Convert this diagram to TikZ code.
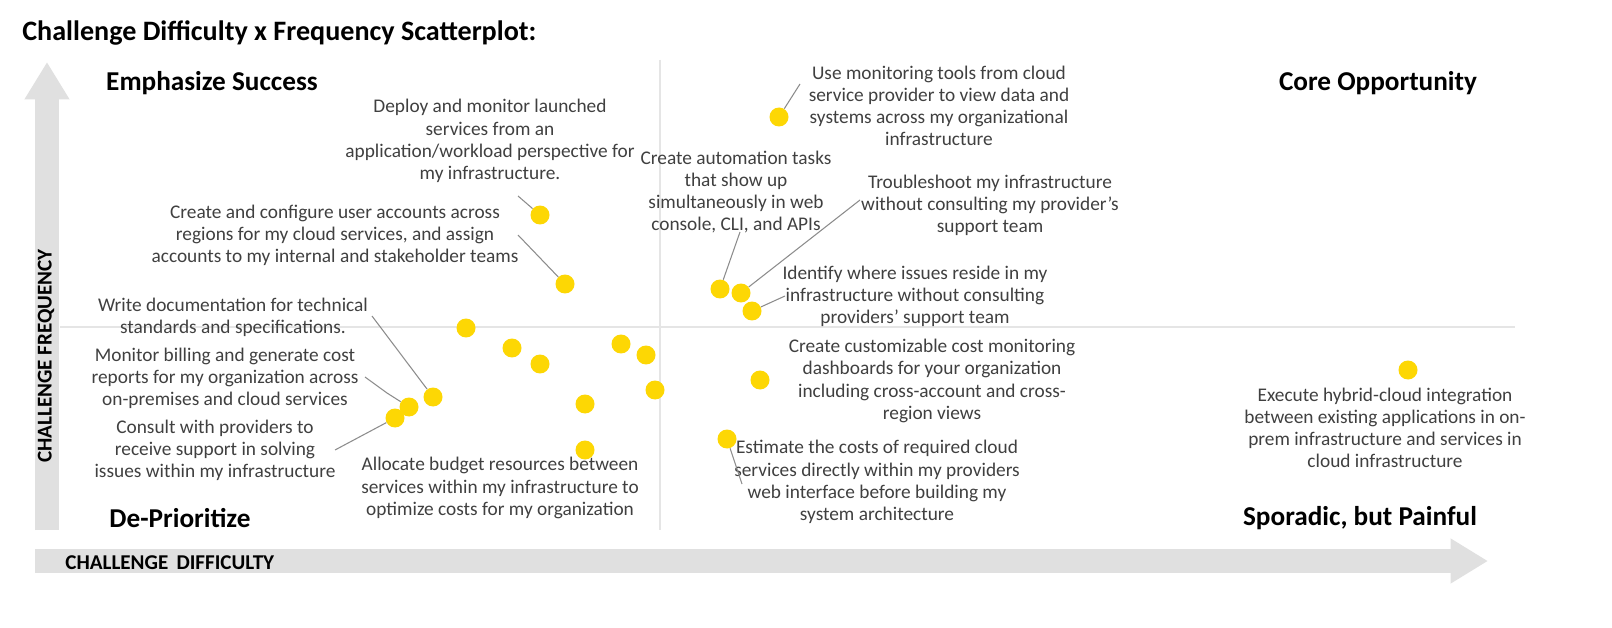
\documentclass[tikz,border=0pt]{standalone}
\usepackage{fontspec}
\setmainfont{Carlito}
\usetikzlibrary{arrows.meta}
\tikzset{
  dot/.style={circle,fill=yellow!75!orange,minimum size=0.38cm,inner sep=0pt},
  txt/.style={align=center,text=black!75,font=\fontsize{11}{12.6}\selectfont,inner sep=0pt},
  quad/.style={font=\bfseries\fontsize{15.5}{18}\selectfont,inner sep=0pt},
  lead/.style={draw=black!45,line width=0.6pt},
  band/.style={draw=black!12,line width=0.48cm,-{Triangle[length=0.75cm,width=0.85cm]}}
}
\begin{document}
\begin{tikzpicture}[x=0.02cm,y=-0.02cm]
\fill[white] (0,0) rectangle (1612,628);
% axes
\draw[band] (47,530) -- (47,62);
\draw[band] (35,561) -- (1488,561);
\draw[black!10,line width=0.6pt] (660,60) -- (660,530);
\draw[black!10,line width=0.6pt] (60,327) -- (1515,327);
% titles
\node[anchor=west,font=\bfseries\fontsize{16}{19}\selectfont,inner sep=0pt] (title) at (22,33) {Challenge Difficulty x Frequency Scatterplot:};
\node[anchor=west,font=\bfseries\fontsize{12}{14}\selectfont,inner sep=0pt] (xlab) at (65,563) {CHALLENGE \,DIFFICULTY};
\node[rotate=90,font=\bfseries\fontsize{12}{14}\selectfont,inner sep=0pt] (ylab) at (46,356) {CHALLENGE FREQUENCY};
\node[quad] (emph) at (212,83) {Emphasize Success};
\node[quad] (core) at (1378,83) {Core Opportunity};
\node[quad] (depr) at (180,518) {De-Prioritize};
\node[quad] (spor) at (1360,518) {Sporadic, but Painful};
% dots
\foreach \n/\p in {d1/{779,117},d2/{540,215},d3/{565,284},d4/{720,289},d5/{741,293},d6/{752,311},
  d7/{466,328},d8/{512,348},d9/{540,364},d10/{621,344},d11/{646,355},d12/{655,390},d13/{760,380},
  d14/{585,404},d15/{433,397},d16/{409,407},d17/{395,418},d18/{585,450},d19/{727,439},d20/{1408,370}}
  \node[dot] (\n) at (\p) {};
% labels
\node[txt] (tmon) at (939,106) {Use monitoring tools from cloud\\service provider to view data and\\systems across my organizational\\infrastructure};
\node[txt] (tdep) at (490,141) {Deploy and monitor launched\\services from an\\application/workload perspective for\\my infrastructure.};
\node[txt] (tauto) at (736,192) {Create automation tasks\\that show up\\simultaneously in web\\console, CLI, and APIs};
\node[txt] (ttrb) at (990,205) {Troubleshoot my infrastructure\\without consulting my provider's\\support team};
\node[txt] (tacc) at (335,235) {Create and configure user accounts across\\regions for my cloud services, and assign\\accounts to my internal and stakeholder teams};
\node[txt] (tidf) at (915,296) {Identify where issues reside in my\\infrastructure without consulting\\providers' support team};
\node[txt] (tdoc) at (233,317) {Write documentation for technical\\standards and specifications.};
\node[txt] (tbil) at (225,378) {Monitor billing and generate cost\\reports for my organization across\\on-premises and cloud services};
\node[txt] (tdash) at (932,381) {Create customizable cost monitoring\\dashboards for your organization\\including cross-account and cross-\\region views};
\node[txt] (thyb) at (1385,428) {Execute hybrid-cloud integration\\between existing applications in on-\\prem infrastructure and services in\\cloud infrastructure};
\node[txt] (tcon) at (215,450) {Consult with providers to\\receive support in solving\\issues within my infrastructure};
\node[txt] (test) at (877,482) {Estimate the costs of required cloud\\services directly within my providers\\web interface before building my\\system architecture};
\node[txt] (tall) at (500,488) {Allocate budget resources between\\services within my infrastructure to\\optimize costs for my organization};
% leaders
\coordinate (l1) at (800,84);  \draw[lead] (l1) -- (d1);
\coordinate (l2) at (518,196); \draw[lead] (l2) -- (d2);
\coordinate (l3) at (518,235); \draw[lead] (l3) -- (d3);
\coordinate (l4) at (740,232); \draw[lead] (l4) -- (d4);
\coordinate (l5) at (860,200); \draw[lead] (l5) -- (d5);
\coordinate (l6) at (785,296); \draw[lead] (l6) -- (d6);
\coordinate (l7) at (372,316); \draw[lead] (l7) -- (d15);
\coordinate (l8) at (365,377); \draw[lead] (l8) -- (387,393) -- (d16);
\coordinate (l9) at (335,450); \draw[lead] (l9) -- (d17);
\coordinate (l10) at (742,484); \draw[lead] (l10) -- (d19);
\pgfresetboundingbox
\useasboundingbox (0,0) rectangle (1612,628);
\end{tikzpicture}
\end{document}
